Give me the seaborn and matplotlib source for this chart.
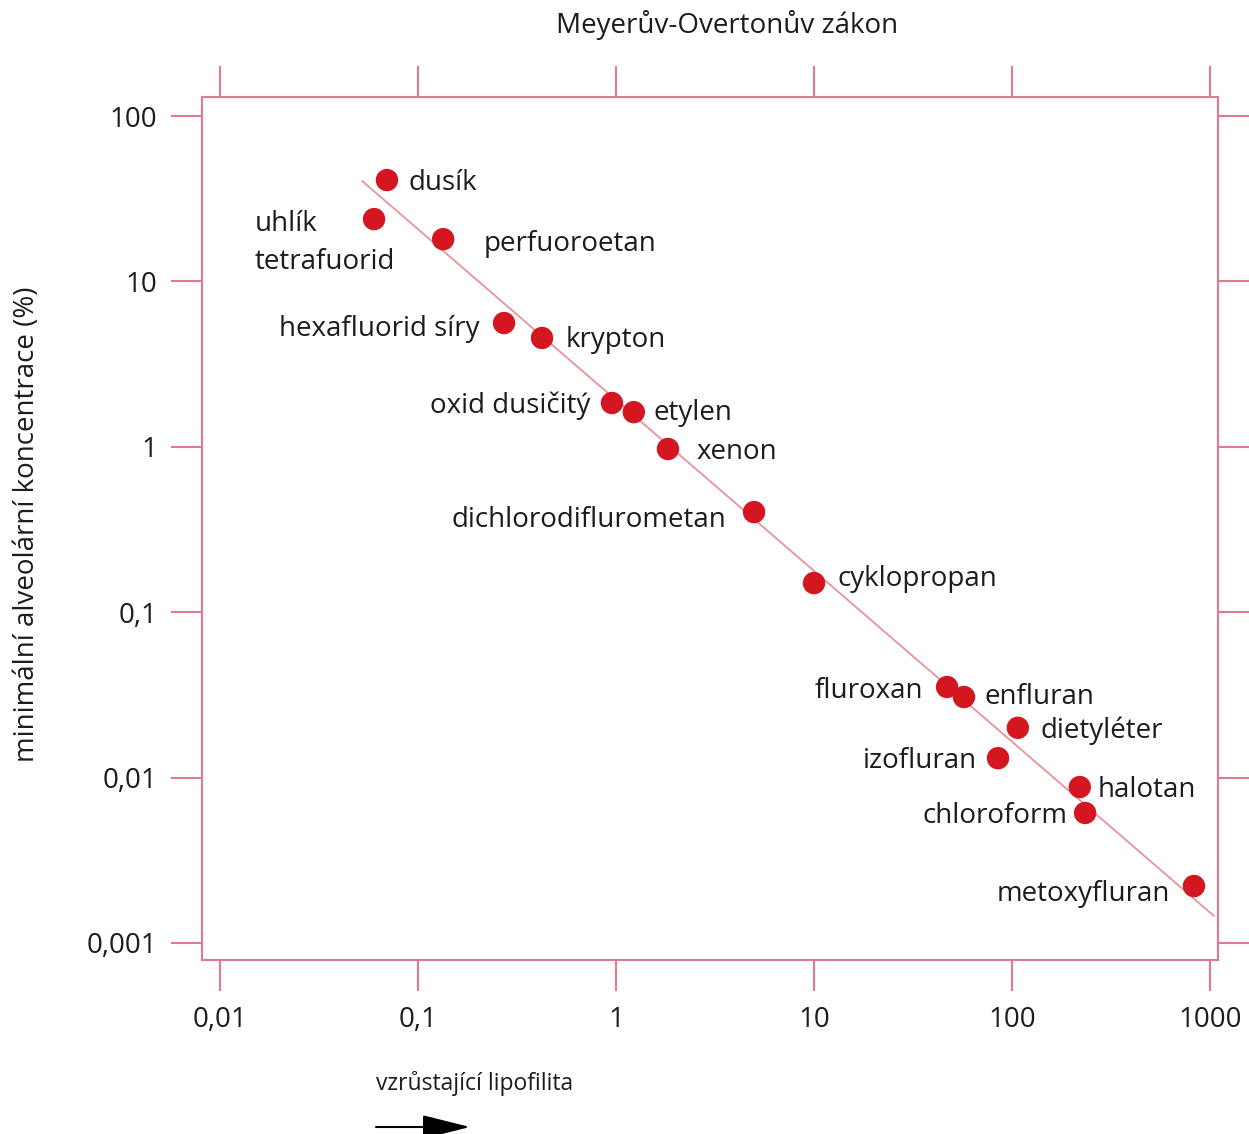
import numpy as np
import pandas as pd
import matplotlib
matplotlib.use("Agg")
import matplotlib.pyplot as plt
import seaborn as sns

# lipofilita (x) vs MAC (y)
latky = ["dusík", "uhlík\ntetrafuorid", "perfuoroetan", "hexafluorid síry", "krypton",
         "oxid dusičitý", "etylen", "xenon", "dichlorodiflurometan", "cyklopropan",
         "fluroxan", "enfluran", "dietyléter", "izofluran", "halotan", "chloroform",
         "metoxyfluran"]
lipofilita = [0.0697, 0.0600, 0.134, 0.272, 0.423, 0.954, 1.23, 1.83, 4.98, 10.0,
              47.0, 57.2, 107, 85.0, 220, 234, 830]
mac = [41.0, 23.8, 18.0, 5.60, 4.55, 1.84, 1.62, 0.970, 0.403, 0.150,
       0.0353, 0.0307, 0.0200, 0.0131, 0.00877, 0.00611, 0.00221]

trend_x = [0.0522, 1047]
trend_y = [40.5, 0.001457]

ticks = [0.001, 0.01, 0.1, 1, 10, 100, 1000]
tick_labels = ["0,001", "0,01", "0,1", "1", "10", "100", "1000"]

# label placement: (dx, dy) in pixels, alignment
label_pos = [(22, -3, "left"), (-119, -24, "left"), (40, -5, "left"), (-25, -6, "right"),
             (24, -2, "left"), (-22, -3, "right"), (20, -1, "left"), (29, -3, "left"),
             (-28, -8, "right"), (24, 4, "left"), (-24, -4, "right"), (21, 0, "left"),
             (23, -3, "left"), (-21, -3, "right"), (18, -3, "left"), (-18, -3, "right"),
             (-24, -8, "right")]

df = pd.DataFrame({"latka": latky, "x": lipofilita, "y": mac})
trend = pd.DataFrame({"x": trend_x, "y": trend_y})

sns.set_theme(style="white")
plt.rcParams["font.family"] = ["Open Sans", "DejaVu Sans"]

pink = "#df7b8c"
dot = "#d3161f"
ink = "#1c1c1c"

fig = plt.figure(figsize=(12.49, 11.34), dpi=100)
ax = fig.add_axes([202 / 1249, 1 - 960 / 1134, 1016 / 1249, 863 / 1134])

sns.lineplot(data=trend, x="x", y="y", ax=ax, color="#e8929c", linewidth=1.3)
sns.scatterplot(data=df, x="x", y="y", ax=ax, color=dot, s=260, edgecolor="none", zorder=3)

ax.set_xscale("log")
ax.set_yscale("log")
ax.set_xlim(10 ** -2.0909, 10 ** 3.0404)
ax.set_ylim(10 ** -3.1028, 10 ** 2.1149)

ax.set_xticks(ticks[1:], tick_labels[1:])
ax.set_yticks(ticks[:-1], tick_labels[:-1])
ax.minorticks_off()
ax.tick_params(axis="both", which="major", direction="out", length=22, width=1.5,
               color=pink, labelsize=20, labelcolor=ink)
ax.tick_params(axis="y", pad=10, left=True, right=True)
ax.tick_params(axis="x", pad=11, bottom=True, top=True)
for s in ax.spines.values():
    s.set_color(pink)
    s.set_linewidth(1.5)
ax.set_xlabel("")
ax.set_ylabel("")

for (name, x, y), (dx, dy, ha) in zip(zip(latky, lipofilita, mac), label_pos):
    ax.annotate(name, (x, y), xytext=(dx, dy), textcoords="offset pixels",
                ha=ha, va="center", fontsize=20, color=ink, linespacing=1.45)

fig.text(727 / 1249, 1 - 25 / 1134, "Meyerův-Overtonův zákon", ha="center", va="center",
         fontsize=20, color=ink)
fig.text(27 / 1249, 1 - 524 / 1134, "minimální alveolární koncentrace (%)", rotation=90,
         ha="center", va="center", fontsize=20, color=ink)
fig.text(475 / 1249, 1 - 1083 / 1134, "vzrůstající lipofilita", ha="center", va="center",
         fontsize=16.5, color=ink)
ax.annotate("", xy=(470, 1134 - 1127), xytext=(376, 1134 - 1127),
            xycoords="figure pixels", textcoords="figure pixels",
            arrowprops=dict(arrowstyle="-|>,head_length=1.2,head_width=0.3",
                            mutation_scale=25, color="black", lw=1.5,
                            shrinkA=0, shrinkB=0))

fig.savefig("out.png", dpi=100)
